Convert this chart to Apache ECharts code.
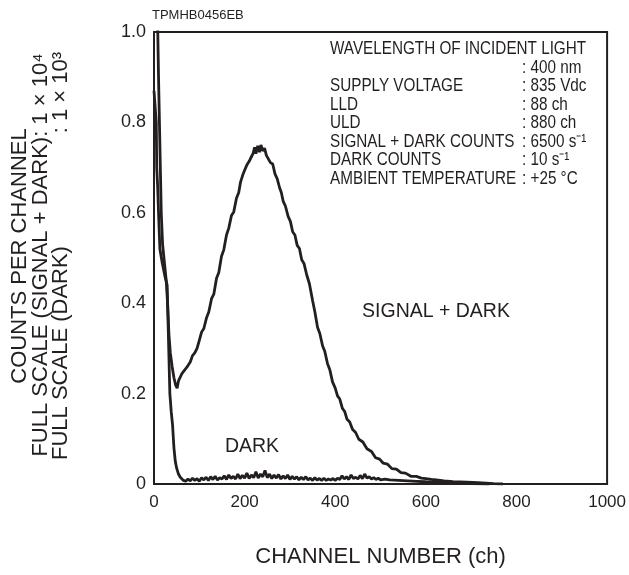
<!DOCTYPE html>
<html>
<head>
<meta charset="utf-8">
<script src="https://cdn.jsdelivr.net/npm/echarts@6/dist/echarts.min.js"></script>
<style>
html,body{margin:0;padding:0;background:#fff;}
#chart{width:629px;height:575px;}
</style>
</head>
<body>
<div id="chart"></div>
<script>
// ---- data ----
var xTicks = [0, 200, 400, 600, 800, 1000];
var yTicks = [0, 0.2, 0.4, 0.6, 0.8, 1.0];

var signalChannels = [0,8,10,12,14,16,19,23,27,30,33,36,40,44,48,51,54,58,62,66,70,75,80,85,90,95,100,105,110,116,121,127,132,138,143,149,154,160,165,171,176,182,187,191,196,200,205,210,215,219,222,225,229,233,236,240,244,248,252,257,262,267,272,277,281,285,290,296,301,306,311,316,321,326,331,337,343,350,355,361,366,372,377,383,388,394,400,405,410,416,421,426,432,438,445,452,461,470,480,489,498,506,515,525,535,545,555,567,579,590,600,612,623,640,660,690,715,733,750,770];
var signalCounts = [1.02,1.02,0.9,0.8,0.7,0.6,0.53,0.49,0.45,0.4,0.33,0.29,0.26,0.235,0.218,0.212,0.228,0.232,0.245,0.243,0.255,0.262,0.27,0.284,0.29,0.3,0.318,0.336,0.344,0.368,0.381,0.41,0.42,0.455,0.468,0.504,0.518,0.551,0.566,0.594,0.602,0.632,0.645,0.668,0.684,0.694,0.706,0.714,0.724,0.732,0.745,0.731,0.748,0.734,0.75,0.737,0.743,0.727,0.731,0.711,0.708,0.686,0.675,0.656,0.645,0.626,0.615,0.592,0.581,0.558,0.551,0.528,0.521,0.496,0.488,0.463,0.443,0.406,0.381,0.346,0.333,0.306,0.293,0.266,0.253,0.226,0.212,0.195,0.188,0.167,0.16,0.143,0.137,0.121,0.114,0.099,0.093,0.078,0.072,0.058,0.055,0.046,0.044,0.034,0.033,0.025,0.024,0.017,0.017,0.013,0.012,0.01,0.009,0.007,0.005,0.004,0.003,0.002,0.001,0];

var darkChannels = [0,3,5,6,8,10,13,18,24,29,32,35,38,41,44,47,50,54,58,60,65,70,75,80,85,90,95,100,105,110,115,120,125,130,135,140,145,150,155,160,165,170,175,180,185,190,195,200,205,210,215,220,225,230,235,240,245,250,255,260,265,270,275,280,285,290,295,300,305,310,315,320,325,330,335,340,345,350,355,360,365,370,375,380,385,390,395,400,405,410,415,420,425,430,435,440,445,450,455,460,465,470,475,480,485,490,495,500,510,520,540,560,580,600,630,660,700,740];
var darkCounts = [0.87,0.87,0.8,0.7,0.66,0.6,0.52,0.49,0.46,0.44,0.32,0.2,0.16,0.13,0.08,0.05,0.035,0.022,0.015,0.013,0.008,0.006,0.011,0.007,0.013,0.008,0.012,0.006,0.014,0.009,0.015,0.008,0.016,0.01,0.017,0.009,0.014,0.011,0.018,0.01,0.02,0.012,0.017,0.011,0.022,0.012,0.019,0.013,0.024,0.012,0.02,0.014,0.027,0.013,0.022,0.016,0.03,0.014,0.022,0.012,0.02,0.013,0.021,0.011,0.018,0.012,0.02,0.01,0.017,0.011,0.016,0.009,0.015,0.01,0.016,0.009,0.013,0.008,0.014,0.009,0.012,0.008,0.013,0.008,0.011,0.009,0.012,0.008,0.013,0.01,0.018,0.011,0.016,0.01,0.02,0.012,0.015,0.011,0.019,0.012,0.022,0.013,0.016,0.011,0.014,0.01,0.013,0.009,0.011,0.009,0.008,0.007,0.006,0.005,0.004,0.003,0.001,0];

var infoLabels = ['WAVELENGTH OF INCIDENT LIGHT', '', 'SUPPLY VOLTAGE', 'LLD', 'ULD', 'SIGNAL + DARK COUNTS', 'DARK COUNTS', 'AMBIENT TEMPERATURE'];
var infoValues = ['', ': 400 nm', ': 835 Vdc', ': 88 ch', ': 880 ch', ': 6500 s\u207B\u00B9', ': 10 s\u207B\u00B9', ': +25 \u00B0C'];

// ---- chart ----
var INK = '#231f20';
var FONT = '"Liberation Sans", Arial, Helvetica, sans-serif';

function pairs(xs, ys) { return xs.map(function (x, i) { return [x, ys[i]]; }); }

var graphics = [];
graphics.push({type:'text', left:152, top:9, style:{text:'TPMHB0456EB', font:'13px ' + FONT, fill:INK}});
// y-axis title (three rotated lines)
graphics.push({type:'text', x:20, y:256, rotation:Math.PI/2, style:{text:'COUNTS PER CHANNEL', font:'22px ' + FONT, fill:INK, align:'center', verticalAlign:'middle'}});
graphics.push({type:'text', x:41, y:255, rotation:Math.PI/2, style:{text:'FULL SCALE (SIGNAL + DARK): 1 \u00D7 10\u2074', font:'22px ' + FONT, fill:INK, align:'center', verticalAlign:'middle'}});
graphics.push({type:'text', x:61, y:460, rotation:Math.PI/2, style:{text:'FULL SCALE (DARK)', font:'22px ' + FONT, fill:INK, align:'left', verticalAlign:'middle'}});
graphics.push({type:'text', x:61, y:52, rotation:Math.PI/2, style:{text:': 1 \u00D7 10\u00B3', font:'22px ' + FONT, fill:INK, align:'right', verticalAlign:'middle'}});
// info block (condensed look via horizontal scale)
var infoY0 = 49, infoDy = 18.5, SX = 0.825;
infoLabels.forEach(function (t, i) {
  if (t) graphics.push({type:'text', x:330, y:infoY0 + i*infoDy, scaleX:SX, style:{text:t, font:'18.5px ' + FONT, fill:INK, align:'left', verticalAlign:'middle'}});
  if (infoValues[i]) graphics.push({type:'text', x:522, y:infoY0 + i*infoDy, scaleX:SX, style:{text:infoValues[i], font:'18.5px ' + FONT, fill:INK, align:'left', verticalAlign:'middle'}});
});
// curve labels
graphics.push({type:'text', x:436, y:312, style:{text:'SIGNAL + DARK', font:'19.5px ' + FONT, fill:INK, align:'center', verticalAlign:'middle'}});
graphics.push({type:'text', x:252, y:447, style:{text:'DARK', font:'19.5px ' + FONT, fill:INK, align:'center', verticalAlign:'middle'}});

var chart = echarts.init(document.getElementById('chart'), null, {renderer:'canvas'});
chart.setOption({
  animation: false,
  backgroundColor: '#ffffff',
  grid: {left:154, right:21, top:32, bottom:91, show:true, borderColor:INK, borderWidth:2, backgroundColor:'transparent'},
  xAxis: {
    type:'value', min:xTicks[0], max:xTicks[xTicks.length-1], interval:200,
    axisLine:{show:false}, axisTick:{show:false}, splitLine:{show:false},
    axisLabel:{color:INK, fontSize:17, fontFamily:FONT, margin:10, formatter:function (v) { return String(v); }},
    name:'CHANNEL NUMBER (ch)', nameLocation:'middle', nameGap:62,
    nameTextStyle:{color:INK, fontSize:22, fontFamily:FONT}
  },
  yAxis: {
    type:'value', min:yTicks[0], max:yTicks[yTicks.length-1], interval:0.2,
    axisLine:{show:false}, axisTick:{show:false}, splitLine:{show:false},
    axisLabel:{color:INK, fontSize:18, fontFamily:FONT, margin:8,
      formatter:function (v) { return v === 0 ? '0' : v.toFixed(1); }}
  },
  series: [
    {type:'line', name:'SIGNAL + DARK', data:pairs(signalChannels, signalCounts), showSymbol:false, clip:true,
     lineStyle:{color:INK, width:2.8}, z:3},
    {type:'line', name:'DARK', data:pairs(darkChannels, darkCounts), showSymbol:false, clip:true,
     lineStyle:{color:INK, width:2.8}, z:3}
  ],
  graphic: graphics
});
</script>
</body>
</html>
